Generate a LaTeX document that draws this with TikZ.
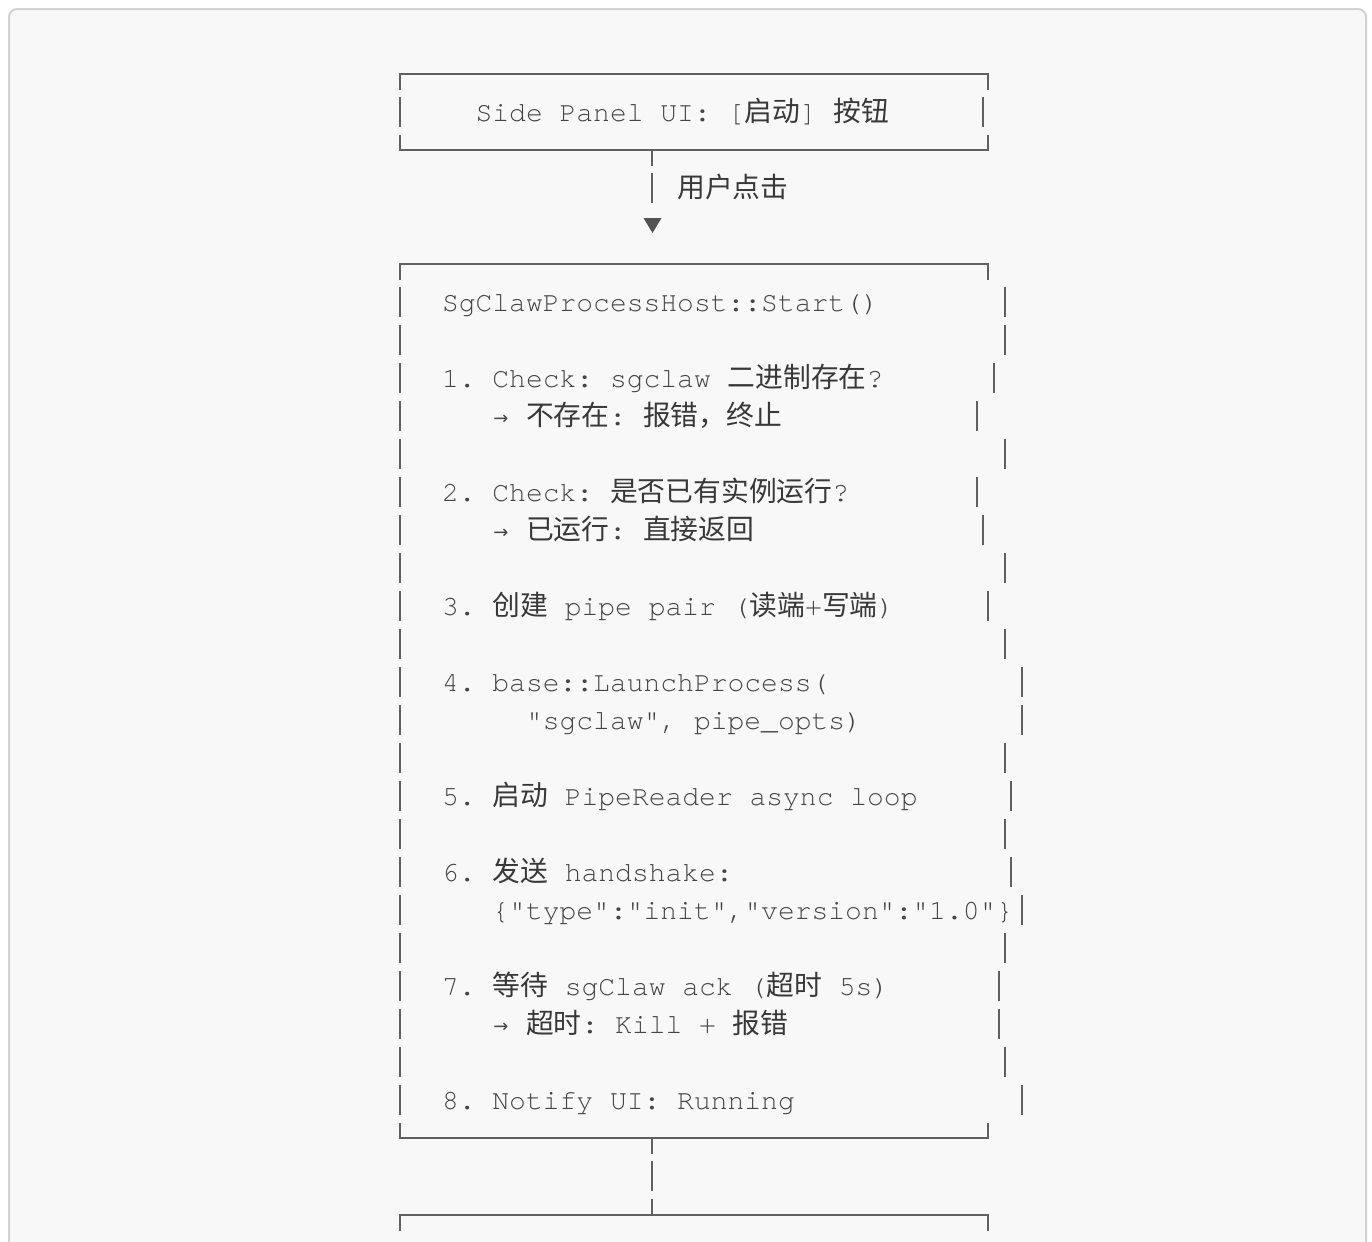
\documentclass[tikz,border=0pt]{standalone}
\usepackage{fontspec}
\setmonofont{TeX Gyre Cursor}
\newfontfamily\cjkfont{Noto Sans CJK SC}
\newfontfamily\arrowfont{DejaVu Sans}
\definecolor{txtc}{HTML}{444444}
\definecolor{zhc}{HTML}{383838}
\definecolor{lnc}{HTML}{606060}
\definecolor{bgc}{HTML}{F8F8F8}
\definecolor{framec}{HTML}{D2D2D2}
\newcommand\zhs[1]{{\cjkfont\fontsize{13.9pt}{14pt}\selectfont\color{zhc}#1}}
\newcommand\rarr{\makebox[8.4pt][c]{\arrowfont\fontsize{9pt}{9pt}\selectfont\raisebox{0.5pt}{→}}}
\tikzset{
  txtline/.style={anchor=base west, inner sep=0pt, outer sep=0pt,
    font=\ttfamily\fontsize{14pt}{14pt}\selectfont, text=txtc},
  boxline/.style={draw=lnc, line width=1pt},
}
\begin{document}
\begin{tikzpicture}[x=0.5pt,y=-0.5pt]
\useasboundingbox (0,0) rectangle (1372,1242);
\clip (0,0) rectangle (1372,1242);
\fill[white] (0,0) rectangle (1372,1242);
\draw[draw=framec, fill=bgc, line width=1pt, rounded corners=4pt] (9,9) rectangle (1366,1300);

% ---------- box 1 ----------
\draw[boxline] (400,90) -- (400,74) -- (988,74) -- (988,90);
\draw[boxline] (400,135) -- (400,150) -- (988,150) -- (988,135);
\draw[boxline] (400,97) -- (400,127);
\draw[boxline] (983,97) -- (983,127);
\node[txtline] (ui) at (475.6,121) {Side Panel UI: [\zhs{启动}] \zhs{按钮}};

% ---------- connector 1 ----------
\coordinate (b1s) at (652,150);
\coordinate (c1a) at (652,166);
\coordinate (c1b) at (652,173);
\coordinate (c1c) at (652,203);
\draw[boxline] (b1s) -- (c1a);
\draw[boxline] (c1b) -- (c1c);
\node[txtline] (click) at (677.2,197) {\zhs{用户点击}};
\fill[lnc!85!black] (643.5,218) -- (661.5,218) -- (652.5,233) -- cycle;

% ---------- box 2 ----------
\draw[boxline] (400,280) -- (400,264) -- (988,264) -- (988,280);
\draw[boxline] (400,1123) -- (400,1138) -- (988,1138) -- (988,1123);
\foreach \k/\xr in {6/1005,7/1005,8/994,9/977,10/1005,11/977,12/983,13/1005,
  14/988,15/1005,16/1022,17/1022,18/1005,19/1011,20/1005,21/1011,22/1022,
  23/1005,24/999,25/999,26/1005,27/1022}{
  \draw[boxline] (400,{74+38*\k-15}) -- (400,{74+38*\k+15});
  \draw[boxline] (\xr,{74+38*\k-15}) -- (\xr,{74+38*\k+15});
}
\node[txtline] (l6)  at (442.0,311)  {SgClawProcessHost::Start()};
\node[txtline] (l8)  at (442.0,387)  {1. Check: sgclaw \zhs{二进制存在}?};
\node[txtline] (l9)  at (492.4,425)  {\rarr{} \zhs{不存在}: \zhs{报错，终止}};
\node[txtline] (l11) at (442.0,501)  {2. Check: \zhs{是否已有实例运行}?};
\node[txtline] (l12) at (492.4,539)  {\rarr{} \zhs{已运行}: \zhs{直接返回}};
\node[txtline] (l14) at (442.0,615)  {3. \zhs{创建} pipe pair (\zhs{读端}+\zhs{写端})};
\node[txtline] (l16) at (442.0,691)  {4. base::LaunchProcess(};
\node[txtline] (l17) at (526.0,729)  {"sgclaw", pipe\_opts)};
\node[txtline] (l19) at (442.0,805)  {5. \zhs{启动} PipeReader async loop};
\node[txtline] (l21) at (442.0,881)  {6. \zhs{发送} handshake:};
\node[txtline] (l22) at (492.4,919)  {\{"type":"init","version":"1.0"\}};
\node[txtline] (l24) at (442.0,995)  {7. \zhs{等待} sgClaw ack (\zhs{超时} 5s)};
\node[txtline] (l25) at (492.4,1033) {\rarr{} \zhs{超时}: Kill + \zhs{报错}};
\node[txtline] (l27) at (442.0,1109) {8. Notify UI: Running};

% ---------- connector 2 ----------
\coordinate (b2s) at (652,1138);
\coordinate (c2a) at (652,1154);
\coordinate (c2b) at (652,1161);
\coordinate (c2c) at (652,1191);
\coordinate (c2d) at (652,1199);
\coordinate (b3n) at (652,1215);
\draw[boxline] (b2s) -- (c2a);
\draw[boxline] (c2b) -- (c2c);
\draw[boxline] (c2d) -- (b3n);

% ---------- box 3 (top edge only visible) ----------
\draw[boxline] (400,1231) -- (400,1215) -- (988,1215) -- (988,1231);
\end{tikzpicture}
\end{document}
